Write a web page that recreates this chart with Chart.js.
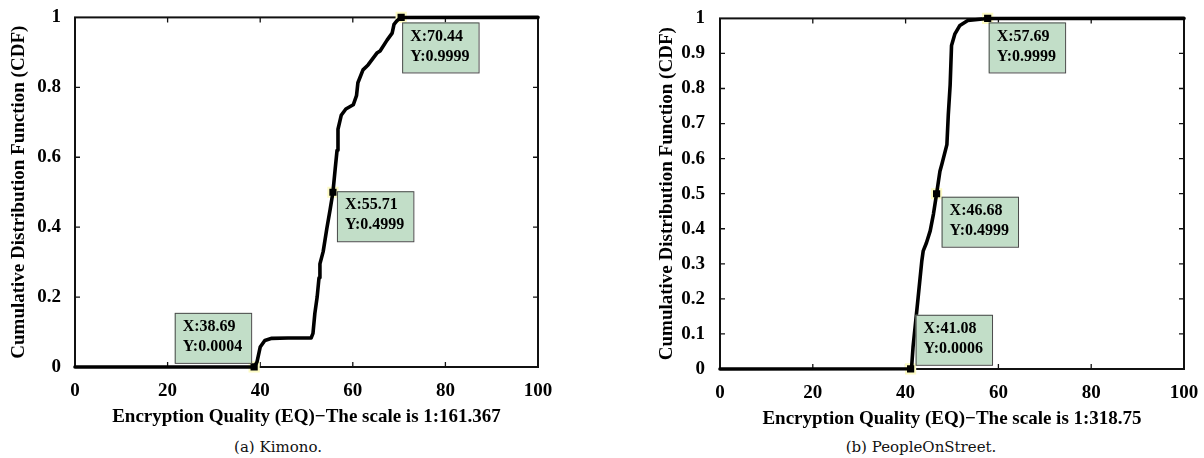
<!DOCTYPE html>
<html><head><meta charset="utf-8">
<script src="https://cdn.jsdelivr.net/npm/chart.js@4/dist/chart.umd.min.js"></script>
<style>
html,body{margin:0;padding:0;background:#fff;width:1204px;height:458px;overflow:hidden;position:relative;}
canvas{position:absolute;top:0;}
.cap{position:absolute;font-family:"DejaVu Serif",serif;font-size:15px;color:#111;text-align:center;width:400px;line-height:18px;top:438px;}
</style></head><body>
<canvas id="a" width="560" height="430" style="left:0;width:560px;height:430px"></canvas>
<canvas id="b" width="559" height="430" style="left:645px;width:559px;height:430px"></canvas>
<div class="cap" style="left:78px">(a) Kimono.</div>
<div class="cap" style="left:721px">(b) PeopleOnStreet.</div>
<script>
// ---- data ----
const xTickValues = [0, 20, 40, 60, 80, 100];
const kimonoYTicks = [0, 0.2, 0.4, 0.6, 0.8, 1];
const peopleYTicks = [0, 0.1, 0.2, 0.3, 0.4, 0.5, 0.6, 0.7, 0.8, 0.9, 1];

const kimonoEQ  = [0, 38.69, 39.3, 40.0, 41.0, 42.5, 46.0, 51.0, 51.4, 51.8, 52.3, 52.7, 52.9, 53.6, 54.4, 55.1, 55.71, 56.2, 56.6, 56.8, 57.5, 58.5, 60.1, 60.8, 61.1, 62.2, 63.3, 65.2, 65.9, 67.4, 68.5, 68.9, 69.5, 70.44, 100];
const kimonoCDF = [0, 0.0004, 0.014, 0.057, 0.076, 0.082, 0.083, 0.083, 0.096, 0.153, 0.200, 0.255, 0.295, 0.330, 0.397, 0.450, 0.4999, 0.567, 0.620, 0.680, 0.720, 0.738, 0.750, 0.776, 0.813, 0.850, 0.864, 0.898, 0.904, 0.935, 0.955, 0.980, 0.990, 0.9999, 1];
const kimonoMarkEQ  = [38.69, 55.71, 70.44];
const kimonoMarkCDF = [0.0004, 0.4999, 0.9999];

const peopleEQ  = [0, 41.08, 41.3, 41.6, 42.2, 42.7, 43.2, 43.5, 43.8, 44.5, 45.3, 46.0, 46.68, 47.4, 47.8, 48.9, 49.2, 49.6, 49.9, 50.6, 51.7, 53.4, 57.69, 100];
const peopleCDF = [0, 0.0006, 0.006, 0.062, 0.139, 0.204, 0.270, 0.309, 0.337, 0.360, 0.394, 0.442, 0.4999, 0.564, 0.583, 0.640, 0.725, 0.810, 0.923, 0.955, 0.980, 0.994, 0.9999, 1];
const peopleMarkEQ  = [41.08, 46.68, 57.69];
const peopleMarkCDF = [0.0006, 0.4999, 0.9999];

const xTitles = ['Encryption Quality (EQ)\u2212The scale is 1:161.367', 'Encryption Quality (EQ)\u2212The scale is 1:318.75'];
const yTitle = 'Cumulative Distribution Function (CDF)';

// ---- drawing ----
const FONT = "'Liberation Serif', 'Times New Roman', serif";
Chart.defaults.font.family = FONT;
Chart.defaults.color = '#000';

const framePlugin = {
  id: 'frame',
  beforeDatasetsDraw(chart) {
    const {ctx, chartArea: a, scales: {x, y}} = chart;
    ctx.save();
    ctx.strokeStyle = '#111';
    ctx.lineWidth = 1.3;
    ctx.beginPath();
    x.ticks.forEach(t => {
      const p = x.getPixelForValue(t.value);
      if (t.value === x.min || t.value === x.max) return;
      ctx.moveTo(p, a.bottom); ctx.lineTo(p, a.bottom - 5);
      ctx.moveTo(p, a.top); ctx.lineTo(p, a.top + 5);
    });
    y.ticks.forEach(t => {
      const p = y.getPixelForValue(t.value);
      if (t.value === y.min || t.value === y.max) return;
      ctx.moveTo(a.left, p); ctx.lineTo(a.left + 5, p);
      ctx.moveTo(a.right, p); ctx.lineTo(a.right - 5, p);
    });
    ctx.stroke();
    ctx.lineWidth = 2;
    ctx.strokeRect(a.left, a.top, a.right - a.left, a.bottom - a.top);
    ctx.restore();
  },
  afterDatasetsDraw(chart, args, opts) {
    const {ctx, scales: {x, y}} = chart;
    const ds = chart.data.datasets[1].data;
    ctx.save();
    ctx.font = "bold 16px " + FONT;
    ds.forEach((pt, i) => {
      const px = x.getPixelForValue(pt.x), py = y.getPixelForValue(pt.y);
      const l1 = 'X:' + pt.x.toFixed(2), l2 = 'Y:' + pt.y.toFixed(4);
      const w = Math.max(ctx.measureText(l1).width, ctx.measureText(l2).width) + 17;
      const h = 50;
      const o = opts.boxes[i];
      const bx = o.left ? px + o.dx - w : px + o.dx;
      const by = o.above ? py + o.dy - h : py + o.dy;
      ctx.fillStyle = '#c2dec8';
      ctx.fillRect(bx, by, w, h);
      ctx.strokeStyle = '#4a4a4a';
      ctx.lineWidth = 1;
      ctx.strokeRect(bx + 0.5, by + 0.5, w, h);
      ctx.fillStyle = '#000';
      ctx.textBaseline = 'middle';
      ctx.textAlign = 'left';
      ctx.fillText(l1, bx + 8, by + 14);
      ctx.fillText(l2, bx + 8, by + 34);
    });
    ctx.restore();
  }
};

function makeChart(id, eq, cdf, mEq, mCdf, yTicks, xTitle, cfg) {
  return new Chart(document.getElementById(id), {
    type: 'line',
    data: {
      datasets: [
        { data: eq.map((v, i) => ({x: v, y: cdf[i]})), borderColor: '#000', borderWidth: 3.6,
          pointRadius: 0, tension: 0, clip: false, borderJoinStyle: 'round', borderCapStyle: 'round' },
        { data: mEq.map((v, i) => ({x: v, y: mCdf[i]})), showLine: false, pointStyle: 'rect',
          pointRadius: 6.5, backgroundColor: '#000', borderColor: '#fdfbc4', borderWidth: 2, clip: false }
      ]
    },
    options: {
      responsive: false, animation: false, devicePixelRatio: 1,
      layout: { padding: { left: 0, right: cfg.padRight, top: cfg.padTop, bottom: 0 } },
      plugins: { legend: { display: false }, tooltip: { enabled: false },
        frame: { boxes: cfg.boxes } },
      scales: {
        x: {
          type: 'linear', min: 0, max: 100,
          afterBuildTicks: s => { s.ticks = xTickValues.map(v => ({value: v})); },
          afterFit: s => { s.height = cfg.xHeight; },
          grid: { display: false }, border: { display: false },
          ticks: { font: { size: 19, weight: 'bold' }, padding: cfg.xTickPad, maxRotation: 0,
                   callback: v => String(v) },
          title: { display: true, text: xTitle, font: { size: 19, weight: 'bold' }, padding: { top: 0, bottom: cfg.xTitlePad } }
        },
        y: {
          type: 'linear', min: 0, max: 1,
          afterBuildTicks: s => { s.ticks = yTicks.map(v => ({value: v})); },
          afterFit: s => { s.width = 75; },
          grid: { display: false }, border: { display: false },
          ticks: { font: { size: 19, weight: 'bold' }, padding: cfg.yTickPad,
                   callback: v => String(v) },
          title: { display: true, text: yTitle, font: { size: 19, weight: 'bold' }, padding: { top: cfg.yTitlePad, bottom: 0 } }
        }
      }
    },
    plugins: [framePlugin]
  });
}

makeChart('a', kimonoEQ, kimonoCDF, kimonoMarkEQ, kimonoMarkCDF, kimonoYTicks, xTitles[0], {
  padRight: 22, padTop: 14, xHeight: 63, xTickPad: 5, xTitlePad: 2, yTickPad: 6, yTitlePad: 7.5,
  boxes: [ {dx: -3, dy: -4, left: true, above: true}, {dx: 4, dy: -1}, {dx: 1, dy: 5} ]
});
makeChart('b', peopleEQ, peopleCDF, peopleMarkEQ, peopleMarkCDF, peopleYTicks, xTitles[1], {
  padRight: 20, padTop: 16, xHeight: 61, xTickPad: 5, xTitlePad: 0, yTickPad: 7, yTitlePad: 11,
  boxes: [ {dx: 5, dy: -4, above: true}, {dx: 5, dy: 3}, {dx: 1, dy: 4} ]
});
</script>
</body></html>
